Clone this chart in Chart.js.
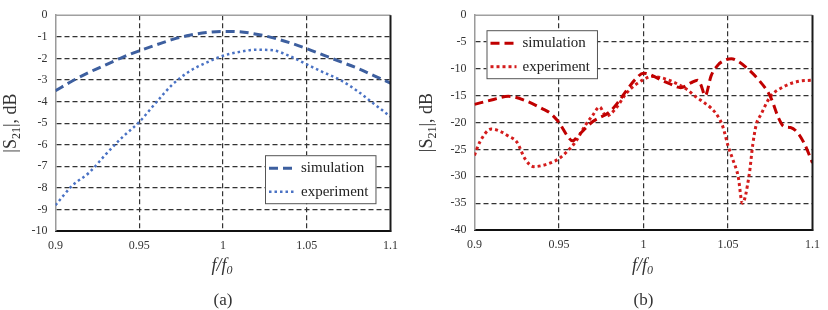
<!DOCTYPE html>
<html>
<head>
<meta charset="utf-8">
<script src="https://cdn.jsdelivr.net/npm/chart.js@4"></script>
<style>
  body { margin: 0; background: #fff; }
  #wrapA { position: absolute; left: 0; top: 0; width: 410px; height: 310px; }
  #wrapB { position: absolute; left: 410px; top: 0; width: 418px; height: 310px; }
</style>
</head>
<body>
<div id="wrapA"><canvas id="chartA"></canvas></div>
<div id="wrapB"><canvas id="chartB"></canvas></div>
<script>
// (a) data
var freqA = [0.90, 0.91, 0.92, 0.93, 0.94, 0.95, 0.96, 0.97, 0.98, 0.99, 1.00,
             1.01, 1.02, 1.03, 1.04, 1.05, 1.06, 1.07, 1.08, 1.09, 1.10];
var simA = [-3.5, -3.05, -2.65, -2.3, -1.95, -1.65, -1.38, -1.12, -0.93, -0.8, -0.75,
            -0.77, -0.88, -1.05, -1.28, -1.55, -1.85, -2.15, -2.45, -2.8, -3.15];
var expA = [-8.8, -7.9, -7.3, -6.45, -5.65, -4.95, -4.05, -3.2, -2.6, -2.2, -1.88,
            -1.7, -1.6, -1.63, -1.9, -2.28, -2.65, -3.0, -3.5, -4.1, -4.7];

// (b) data
var freqSimB = [0.9, 0.91, 0.92, 0.93, 0.94, 0.945, 0.95, 0.955, 0.958, 0.962, 0.97, 0.98, 0.985,
                0.99, 0.995, 1.0, 1.005, 1.01, 1.015, 1.022, 1.028, 1.032, 1.034, 1.0365, 1.04,
                1.044, 1.048, 1.052, 1.056, 1.061, 1.068, 1.075, 1.08, 1.083, 1.087, 1.091, 1.095, 1.1];
var simB = [-16.6, -15.8, -15.1, -15.9, -17.4, -18.3, -20, -22.5, -23.4, -22.2, -19.8, -18, -16.2,
            -14, -12, -10.8, -11.2, -12, -12.7, -13.5, -12.6, -12.1, -13, -15, -11.3,
            -9.3, -8.4, -8.1, -8.6, -9.8, -12, -15.1, -19.2, -20.7, -20.9, -21.8, -23.8, -27.5];
var freqExpB = [0.9, 0.903, 0.91, 0.915, 0.92, 0.925, 0.93, 0.935, 0.94, 0.945, 0.95, 0.955, 0.96,
                0.965, 0.97, 0.974, 0.978, 0.983, 0.99, 0.995, 1.0, 1.005, 1.01, 1.015, 1.02,
                1.026, 1.031, 1.036, 1.04, 1.044, 1.047, 1.05, 1.053, 1.056, 1.0585, 1.0625,
                1.0647, 1.0667, 1.0695, 1.075, 1.083, 1.092, 1.1];
var expB = [-26.1, -23.7, -21.2, -21.6, -22.5, -23.6, -26.8, -28.2, -28, -27.5, -26.7, -25.3, -23.5,
            -20.8, -18.6, -17.1, -18.8, -17.6, -14.5, -13, -12, -11.4, -11.6, -12.1, -12.8,
            -13.9, -15.2, -16.3, -17.3, -18.8, -20.8, -24.3, -27, -30, -35, -29.8,
            -24, -20.4, -18.5, -15.2, -13.3, -12.3, -12.1];

var xTicks = [0.9, 0.95, 1, 1.05, 1.1];
var labels = ["simulation", "experiment"];

var serif = "'Liberation Serif', 'Times New Roman', serif";

function points(xs, ys) {
    return xs.map(function (x, i) { return { x: x, y: ys[i] }; });
}

// draws text pieces (with subscripts) centered on cx
function drawRuns(ctx, runs, cx, y) {
    var total = 0;
    runs.forEach(function (r) { ctx.font = r.font; total += ctx.measureText(r.text).width; });
    var x = cx - total / 2;
    runs.forEach(function (r) {
        ctx.font = r.font;
        ctx.fillText(r.text, x, y + (r.dy || 0));
        x += ctx.measureText(r.text).width;
    });
}

var decor = {
    id: "decor",
    afterDraw: function (chart, args, opts) {
        var ctx = chart.ctx, a = chart.chartArea;
        ctx.save();

        // top + right frame
        ctx.setLineDash([]);
        ctx.strokeStyle = "#a0a0a0";
        ctx.lineWidth = 1.5;
        ctx.beginPath(); ctx.moveTo(a.left, a.top); ctx.lineTo(a.right, a.top); ctx.stroke();
        ctx.strokeStyle = "#1a1a1a";
        ctx.lineWidth = 2;
        ctx.beginPath(); ctx.moveTo(a.right, a.top); ctx.lineTo(a.right, a.bottom + 1); ctx.stroke();

        // legend box
        ctx.font = "15px " + serif;
        var maxW = 0;
        chart.data.datasets.forEach(function (ds) { maxW = Math.max(maxW, ctx.measureText(ds.label).width); });
        var bx = a.left + opts.legendX, by = a.top + opts.legendY;
        var bw = 36 + maxW + 7, bh = 48;
        ctx.fillStyle = "#fff";
        ctx.fillRect(bx, by, bw, bh);
        ctx.strokeStyle = "#555";
        ctx.lineWidth = 1;
        ctx.strokeRect(bx + 0.5, by + 0.5, bw, bh);
        chart.data.datasets.forEach(function (ds, i) {
            var ry = by + 13 + i * 23.5;
            ctx.strokeStyle = ds.borderColor;
            ctx.lineWidth = ds.borderWidth;
            ctx.setLineDash(ds.borderDash);
            ctx.beginPath(); ctx.moveTo(bx + 4, ry); ctx.lineTo(bx + 30, ry); ctx.stroke();
            ctx.setLineDash([]);
            ctx.fillStyle = "#222";
            ctx.textBaseline = "middle";
            ctx.textAlign = "left";
            ctx.fillText(ds.label, bx + 36, ry);
        });

        ctx.fillStyle = "#333";
        ctx.textBaseline = "alphabetic";
        ctx.textAlign = "left";

        // x title f/f0
        var cx = (a.left + a.right) / 2;
        drawRuns(ctx, [
            { text: "f/f", font: "italic 18px " + serif },
            { text: "0", font: "italic 12px " + serif, dy: 3 }
        ], cx - 1, 271);

        // caption
        drawRuns(ctx, [{ text: opts.caption, font: "17px " + serif }], cx, 305);

        // y title |S21|, dB
        ctx.translate(opts.yTitleX, (a.top + a.bottom) / 2);
        ctx.rotate(-Math.PI / 2);
        drawRuns(ctx, [
            { text: "|S", font: "18px " + serif },
            { text: "21", font: "12px " + serif, dy: 4 },
            { text: "|, dB", font: "18px " + serif }
        ], 0, 6);

        ctx.restore();
    }
};

function edgeHidden(c) {
    var ticks = c.scale.ticks;
    if (c.index === 0 || c.index === ticks.length - 1) return "rgba(0,0,0,0)";
    return "#333";
}

function makeChart(id, datasets, yMin, yStep, pad, yWidth, xHeight, decorOpts) {
    return new Chart(document.getElementById(id).getContext("2d"), {
        type: "line",
        data: { datasets: datasets },
        plugins: [decor],
        options: {
            responsive: true,
            maintainAspectRatio: false,
            animation: false,
            layout: { padding: pad },
            elements: { point: { radius: 0 }, line: { cubicInterpolationMode: "monotone", borderCapStyle: "butt" } },
            plugins: { legend: { display: false }, tooltip: { enabled: false }, decor: decorOpts },
            scales: {
                x: {
                    type: "linear",
                    min: 0.9,
                    max: 1.1,
                    afterBuildTicks: function (scale) {
                        scale.ticks = xTicks.map(function (v) { return { value: v }; });
                    },
                    afterFit: function (scale) { scale.height = xHeight; },
                    ticks: {
                        color: "#333",
                        font: { family: serif, size: 12 },
                        padding: 8,
                        maxRotation: 0,
                        callback: function (v) { return String(v); }
                    },
                    grid: { color: edgeHidden, lineWidth: 1.2, drawTicks: false },
                    border: { color: "#111", width: 2, dash: [5, 3] }
                },
                y: {
                    min: yMin,
                    max: 0,
                    afterFit: function (scale) { scale.width = yWidth; },
                    ticks: {
                        stepSize: yStep,
                        color: "#333",
                        font: { family: serif, size: 12 },
                        padding: 8
                    },
                    grid: { color: edgeHidden, lineWidth: 1.2, drawTicks: false },
                    border: { color: "#9a9a9a", width: 1.5, dash: [5, 3] }
                }
            }
        }
    });
}

makeChart("chartA", [
    {
        label: labels[0],
        data: points(freqA, simA),
        borderColor: "#3d5f9f",
        borderWidth: 3,
        borderDash: [9, 5]
    },
    {
        label: labels[1],
        data: points(freqA, expA),
        borderColor: "#4a72c4",
        borderWidth: 2.5,
        borderDash: [2.5, 3]
    }
], -10, 1, { top: 5, right: 19.5, left: 0, bottom: 0 }, 55.5, 79,
   { caption: "(a)", yTitleX: 10, legendX: 209.5, legendY: 140 });

makeChart("chartB", [
    {
        label: labels[0],
        data: points(freqSimB, simB),
        borderColor: "#c00000",
        borderWidth: 3,
        borderDash: [9, 5]
    },
    {
        label: labels[1],
        data: points(freqExpB, expB),
        borderColor: "#d41c1c",
        borderWidth: 3,
        borderDash: [3, 3]
    }
], -40, 5, { top: 5, right: 11.5, left: 0, bottom: 0 }, 64.5, 80,
   { caption: "(b)", yTitleX: 16, legendX: 12, legendY: 15 });
</script>
</body>
</html>
